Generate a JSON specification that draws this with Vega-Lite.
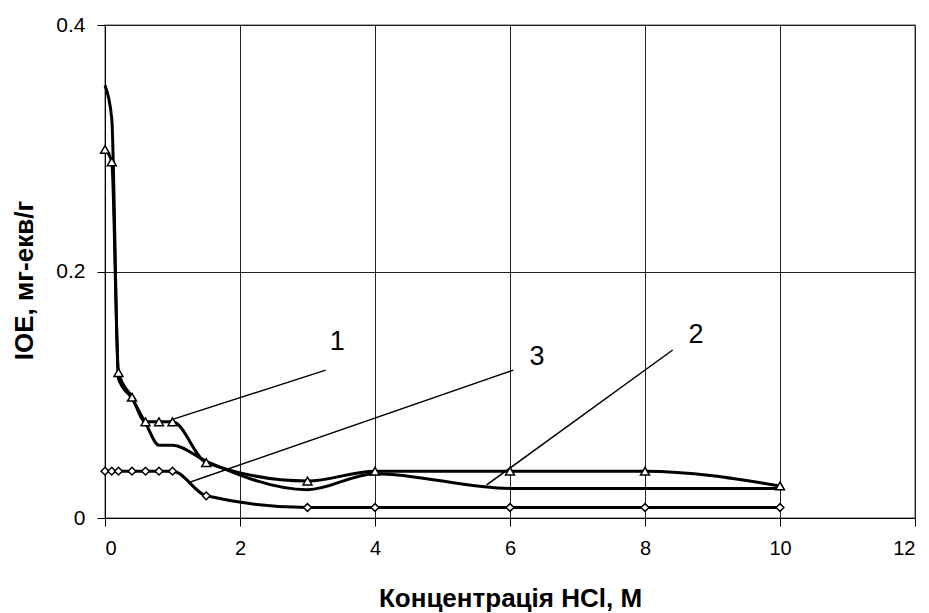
{
  "$schema": "https://vega.github.io/schema/vega-lite/v6.json",
  "width": 810,
  "height": 493,
  "autosize": {"type": "none"},
  "padding": {"left": 105, "top": 25, "right": 14, "bottom": 95},
  "background": "white",
  "config": {
    "font": "Liberation Sans",
    "view": {"stroke": "#8a8a8a", "strokeWidth": 1.5}
  },
  "datasets": {
    "curves": [
      {"series": "1", "x": 0, "y": 0.299},
      {"series": "1", "x": 0.1, "y": 0.289},
      {"series": "1", "x": 0.2, "y": 0.118},
      {"series": "1", "x": 0.4, "y": 0.098},
      {"series": "1", "x": 0.6, "y": 0.078},
      {"series": "1", "x": 0.8, "y": 0.078},
      {"series": "1", "x": 1.0, "y": 0.078},
      {"series": "1", "x": 1.5, "y": 0.045},
      {"series": "1", "x": 3, "y": 0.030},
      {"series": "1", "x": 4, "y": 0.038},
      {"series": "1", "x": 6, "y": 0.038},
      {"series": "1", "x": 8, "y": 0.038},
      {"series": "1", "x": 10, "y": 0.026},
      {"series": "2", "x": 0, "y": 0.351},
      {"series": "2", "x": 0.1, "y": 0.324},
      {"series": "2", "x": 0.2, "y": 0.113},
      {"series": "2", "x": 0.4, "y": 0.097},
      {"series": "2", "x": 0.6, "y": 0.077},
      {"series": "2", "x": 0.8, "y": 0.059},
      {"series": "2", "x": 1.0, "y": 0.059},
      {"series": "2", "x": 1.5, "y": 0.046},
      {"series": "2", "x": 3, "y": 0.023},
      {"series": "2", "x": 4, "y": 0.036},
      {"series": "2", "x": 6, "y": 0.024},
      {"series": "2", "x": 8, "y": 0.024},
      {"series": "2", "x": 10, "y": 0.024},
      {"series": "3", "x": 0, "y": 0.038},
      {"series": "3", "x": 0.1, "y": 0.038},
      {"series": "3", "x": 0.2, "y": 0.038},
      {"series": "3", "x": 0.4, "y": 0.038},
      {"series": "3", "x": 0.6, "y": 0.038},
      {"series": "3", "x": 0.8, "y": 0.038},
      {"series": "3", "x": 1.0, "y": 0.038},
      {"series": "3", "x": 1.5, "y": 0.018},
      {"series": "3", "x": 3, "y": 0.0085},
      {"series": "3", "x": 4, "y": 0.0085},
      {"series": "3", "x": 6, "y": 0.0085},
      {"series": "3", "x": 8, "y": 0.0085},
      {"series": "3", "x": 10, "y": 0.0085}
    ],
    "leaders": [
      {"label": "1", "x": 1.0, "y": 0.080, "x2": 3.27, "y2": 0.120, "tx": 3.44, "ty": 0.143},
      {"label": "3", "x": 1.234, "y": 0.0286, "x2": 6.05, "y2": 0.120, "tx": 6.40, "ty": 0.1304},
      {"label": "2", "x": 5.654, "y": 0.0268, "x2": 8.41, "y2": 0.1363, "tx": 8.755, "ty": 0.1485}
    ]
  },
  "layer": [
    {
      "data": {"name": "curves"},
      "mark": {"type": "line", "color": "black", "strokeWidth": 3, "interpolate": "monotone"},
      "encoding": {
        "x": {
          "field": "x", "type": "quantitative",
          "scale": {"domain": [0, 12], "nice": false},
          "axis": {
            "values": [0, 2, 4, 6, 8, 10, 12],
            "format": "d",
            "title": "Концентрація HCl, М",
            "titleFontSize": 26, "titleFontWeight": "bold", "titleColor": "black",
            "titleBaseline": "top", "titleY": 67, "titleX": 405, "titleAlign": "center",
            "labelFontSize": 20, "labelColor": "black", "labelPadding": 12,
            "tickSize": 8, "tickColor": "black", "domainColor": "black",
            "grid": true, "gridColor": "#222222", "gridWidth": 1
          }
        },
        "y": {
          "field": "y", "type": "quantitative",
          "scale": {"domain": [0, 0.4], "nice": false},
          "axis": {
            "values": [0, 0.2, 0.4],
            "format": ".1~f",
            "title": "IOE, мг-екв/г",
            "titleFontSize": 26, "titleFontWeight": "bold", "titleColor": "black",
            "titleBaseline": "alphabetic", "titleAngle": -90, "titleX": -73, "titleY": 255, "titleAlign": "center",
            "labelFontSize": 21, "labelColor": "black", "labelPadding": 12,
            "tickSize": 8, "tickColor": "black", "domainColor": "black",
            "grid": true, "gridColor": "#222222", "gridWidth": 1
          }
        },
        "detail": {"field": "series"}
      }
    },
    {
      "data": {"name": "curves"},
      "transform": [{"filter": "datum.series != '2'"}],
      "mark": {"type": "point", "filled": false, "fill": "white", "fillOpacity": 1, "stroke": "black", "strokeWidth": 1.5, "opacity": 1},
      "encoding": {
        "x": {"field": "x", "type": "quantitative"},
        "y": {"field": "y", "type": "quantitative"},
        "shape": {"field": "series", "type": "nominal", "scale": {"domain": ["1", "3"], "range": ["triangle-up", "diamond"]}, "legend": null},
        "size": {"field": "series", "type": "nominal", "scale": {"domain": ["1", "3"], "range": [80, 60]}, "legend": null}
      }
    },
    {
      "data": {"name": "leaders"},
      "mark": {"type": "rule", "color": "black", "strokeWidth": 1.5},
      "encoding": {
        "x": {"field": "x", "type": "quantitative"},
        "y": {"field": "y", "type": "quantitative"},
        "x2": {"field": "x2"},
        "y2": {"field": "y2"}
      }
    },
    {
      "data": {"name": "leaders"},
      "mark": {"type": "text", "fontSize": 27, "color": "black", "align": "center", "baseline": "middle"},
      "encoding": {
        "x": {"field": "tx", "type": "quantitative"},
        "y": {"field": "ty", "type": "quantitative"},
        "text": {"field": "label"}
      }
    }
  ]
}
